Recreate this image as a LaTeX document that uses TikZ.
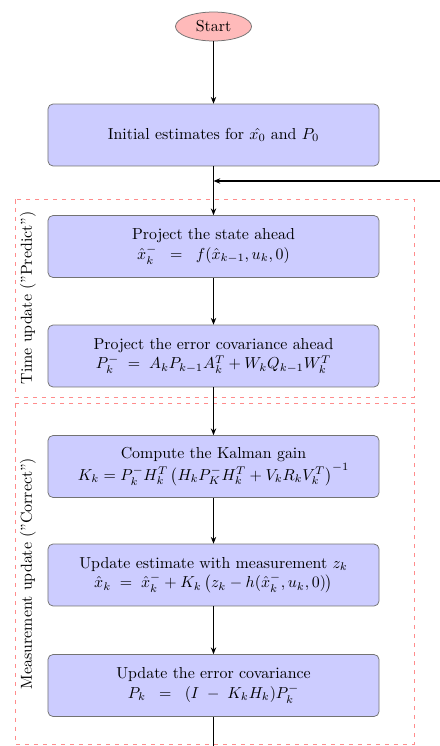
\RequirePackage{fix-cm}
\documentclass[tikz,border=0pt]{standalone}
\usetikzlibrary{shapes.geometric,arrows.meta}
\begin{document}
\begin{tikzpicture}[x=0.6667pt,y=-0.6667pt,
  every node/.style={font=\fontsize{10.6pt}{13pt}\selectfont},
  stepbox/.style={draw=black!55, fill=blue!20, rounded corners=3.3pt, minimum width=220.7pt, minimum height=41.3pt, align=center, inner sep=2pt, line width=0.5pt},
  startnode/.style={ellipse, draw=black!55, fill=red!27, minimum width=50.7pt, minimum height=19.3pt, inner sep=0pt, line width=0.5pt},
  grp/.style={draw=red!45, dashed, line width=0.4pt},
  flow/.style={line width=1.1pt, -{Stealth[length=4.5pt,width=3.6pt]}},
  grplabel/.style={rotate=90, anchor=center}]
\useasboundingbox (0,0) rectangle (440,746);
\clip (0,0) rectangle (440,746);
\node[startnode] (start) at (213.5,26.5) {Start};
\node[stepbox] (init) at (213.5,135) {Initial estimates for $\hat{x_0}$ and $P_0$};
\node[stepbox] (proj) at (213.5,246.5) {Project the state ahead\\ $\hat{x}_k^- \;\;=\;\; f(\hat{x}_{k-1},u_k,0)$};
\node[stepbox] (cov) at (213.5,356) {Project the error covariance ahead\\ $P_k^- \;=\; A_kP_{k-1}A_k^T + W_kQ_{k-1}W_k^T$};
\node[stepbox] (gain) at (213.5,466.5) {Compute the Kalman gain\\ $K_k = P_k^- H_k^T\left(H_kP_K^-H_k^T + V_kR_kV_k^T\right)^{-1}$};
\node[stepbox] (upd) at (213.5,575) {Update estimate with measurement $z_k$\\ $\hat{x}_k \;=\; \hat{x}_k^- + K_k\left(z_k - h(\hat{x}_k^-,u_k,0)\right)$};
\node[stepbox] (ucov) at (213.5,685.5) {Update the error covariance\\ $P_k \;\;=\;\; (I \;-\; K_kH_k)P_k^-$};
\draw[grp] (15,199) rectangle (414,397);
\draw[grp] (15,403) rectangle (414,744);
\node[grplabel] (tlabel) at (28,298) {Time update (''Predict'')};
\node[grplabel] (mlabel) at (28,573.5) {Measurement update (''Correct'')};
\coordinate (merge) at (213.5,181);
\coordinate (below) at (213.5,775);
\coordinate (farright) at (470,775);
\coordinate (upright) at (470,181);
\draw[flow] (start) -- (init);
\draw[line width=1.1pt] (init) -- (merge);
\draw[flow] (merge) -- (proj);
\draw[flow] (proj) -- (cov);
\draw[flow] (cov) -- (gain);
\draw[flow] (gain) -- (upd);
\draw[flow] (upd) -- (ucov);
\draw[flow] (ucov.south) -- (below) -- (farright) -- (upright) -- (merge);
\end{tikzpicture}
\end{document}
